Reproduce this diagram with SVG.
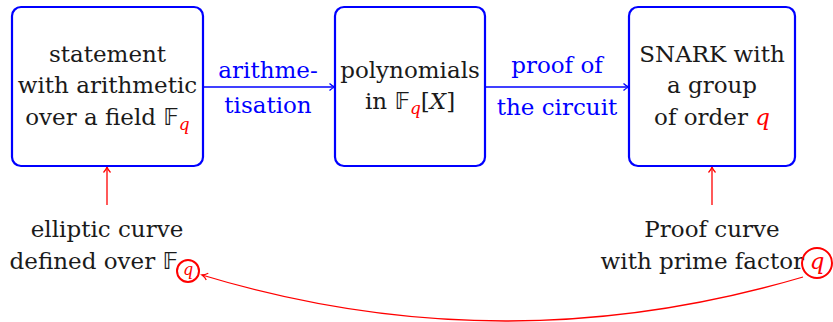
<svg xmlns="http://www.w3.org/2000/svg" width="833" height="322" viewBox="0 0 833 322">
<style>
.box{fill:#fff;stroke:#0000ff;stroke-width:2.2}
text{font-family:'DejaVu Serif',serif;font-size:23px}
.t{fill:#1a1a1a;text-anchor:middle}
.lb{fill:#0000ff;text-anchor:middle}
.bb{font-family:'DejaVu Sans',sans-serif;font-size:23px}
.q{fill:#ff0000;font-style:italic}
.cb{fill:none;stroke:#0000ff;stroke-width:1.3}
.cr{fill:none;stroke:#ff0000;stroke-width:1.3}
.circ{fill:none;stroke:#ff0000;stroke-width:2}
</style>
<defs>
<marker id="ab" markerWidth="10" markerHeight="10" refX="8" refY="5" orient="auto" markerUnits="userSpaceOnUse"><path d="M2.5,1.5 Q5,4 8,5 Q5,6 2.5,8.5" fill="none" stroke="#0000ff" stroke-width="1.3"/></marker>
<marker id="ar" markerWidth="10" markerHeight="10" refX="8" refY="5" orient="auto" markerUnits="userSpaceOnUse"><path d="M2.5,1.5 Q5,4 8,5 Q5,6 2.5,8.5" fill="none" stroke="#ff0000" stroke-width="1.3"/></marker>
</defs>
<g id="connectors">
<path class="cb" d="M203,87 H335" marker-end="url(#ab)"/>
<path class="cb" d="M485,87 H629" marker-end="url(#ab)"/>
<path class="cr" d="M107,205 V167" marker-end="url(#ar)"/>
<path class="cr" d="M712,205 V167" marker-end="url(#ar)"/>
<path class="cr" d="M803,277 Q502,366 202,275" marker-end="url(#ar)"/>
<text class="lb" x="268" y="78">arithme-</text>
<text class="lb" x="268" y="113">tisation</text>
<text class="lb" x="557" y="73">proof of</text>
<text class="lb" x="557" y="115">the circuit</text>
</g>
<g id="statement">
<rect class="box" x="12" y="7" width="191" height="159" rx="9"/>
<text class="t" x="107.5" y="62">statement</text>
<text class="t" x="107.5" y="93">with arithmetic</text>
<text class="t" x="107.5" y="125">over a field <tspan class="bb">𝔽</tspan><tspan class="q" font-size="17" dy="5">q</tspan></text>
</g>
<g id="polynomials">
<rect class="box" x="335" y="7" width="150" height="159" rx="9"/>
<text class="t" x="410" y="78">polynomials</text>
<text class="t" x="410" y="109">in <tspan class="bb">𝔽</tspan><tspan class="q" font-size="17" dy="5">q</tspan><tspan dy="-5">[</tspan><tspan font-style="italic">X</tspan>]</text>
</g>
<g id="snark">
<rect class="box" x="629" y="7" width="166" height="159" rx="9"/>
<text class="t" x="712" y="62">SNARK with</text>
<text class="t" x="712" y="93">a group</text>
<text class="t" x="712" y="125">of order <tspan class="q">q</tspan></text>
</g>
<g id="elliptic">
<text class="t" x="107" y="237">elliptic curve</text>
<text class="t" x="178" y="269" style="text-anchor:end">defined over <tspan class="bb">𝔽</tspan></text>
<circle class="circ" cx="188" cy="271" r="11"/>
<text class="t q" x="188" y="275" style="font-size:16px">q</text>
</g>
<g id="proofcurve">
<text class="t" x="712" y="237">Proof curve</text>
<text class="t" x="804" y="269" style="text-anchor:end">with prime factor</text>
<circle class="circ" cx="817" cy="263" r="15"/>
<text class="t q" x="817" y="269">q</text>
</g>
</svg>
